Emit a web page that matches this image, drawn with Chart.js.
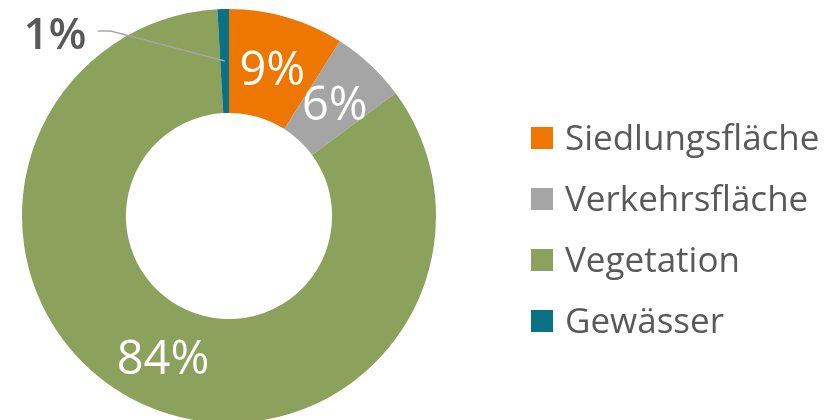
<!DOCTYPE html>
<html>
<head>
<meta charset="utf-8">
<script src="https://cdn.jsdelivr.net/npm/chart.js@4/dist/chart.umd.min.js"></script>
<style>
  html, body { margin: 0; padding: 0; background: #fff; overflow: hidden; width: 836px; height: 420px; }
  #wrap { position: absolute; left: 0; top: 0; width: 836px; height: 440px; }
  #legend { position: absolute; left: 531px; top: 107px; font-family: "Open Sans", "Noto Sans", sans-serif; font-size: 35px; color: #595959; }
  .item { height: 61px; display: flex; align-items: center; white-space: nowrap; }
  .sw { width: 22px; height: 22px; margin-right: 12px; flex: none; }
  .tx { position: relative; top: -1px; }
</style>
</head>
<body>
<div id="wrap"><canvas id="c" width="836" height="440"></canvas></div>
<div id="legend"></div>
<script>
const categories = ["Siedlungsfläche", "Verkehrsfläche", "Vegetation", "Gewässer"];
const shares = [9.0, 5.9, 84.2, 0.9];
const colors = ["#EE7702", "#A5A5A5", "#8BA15C", "#0B7285"];
const pctLabels = ["9%", "6%", "84%", "1%"];

const labelPlugin = {
  id: "sliceLabels",
  afterDatasetsDraw(chart) {
    const ctx = chart.ctx;
    const meta = chart.getDatasetMeta(0);
    ctx.save();
    meta.data.forEach((arc, i) => {
      const p = arc.tooltipPosition();
      if (i === 3) {
        // outside label with leader line
        const ex = p.x - 114, ey = p.y - 30;
        ctx.strokeStyle = "#A6A6A6";
        ctx.lineWidth = 1.5;
        ctx.beginPath();
        ctx.moveTo(p.x, p.y);
        ctx.lineTo(ex, ey);
        ctx.lineTo(ex - 13, ey);
        ctx.stroke();
        ctx.fillStyle = "#595959";
        ctx.font = "600 44px 'Open Sans', 'Noto Sans', sans-serif";
        ctx.textAlign = "right";
        ctx.textBaseline = "middle";
        ctx.fillText(pctLabels[i], ex - 24, ey + 5);
      } else {
        ctx.fillStyle = "#FFFFFF";
        ctx.font = "47px 'Open Sans', 'Noto Sans', sans-serif";
        ctx.textAlign = "center";
        ctx.textBaseline = "middle";
        ctx.fillText(pctLabels[i], p.x, p.y + 4);
      }
    });
    ctx.restore();
  }
};

new Chart(document.getElementById("c"), {
  type: "doughnut",
  data: {
    labels: categories,
    datasets: [{
      data: shares,
      backgroundColor: colors,
      borderWidth: 0
    }]
  },
  options: {
    responsive: false,
    animation: false,
    cutout: "49.8%",
    layout: { padding: { left: 22, top: 9, right: 400, bottom: 17 } },
    plugins: { legend: { display: false }, tooltip: { enabled: false } }
  },
  plugins: [labelPlugin]
});

const lg = document.getElementById("legend");
categories.forEach((name, i) => {
  const d = document.createElement("div");
  d.className = "item";
  d.innerHTML = '<span class="sw" style="background:' + colors[i] + '"></span><span class="tx">' + name + '</span>';
  lg.appendChild(d);
});
</script>
</body>
</html>
